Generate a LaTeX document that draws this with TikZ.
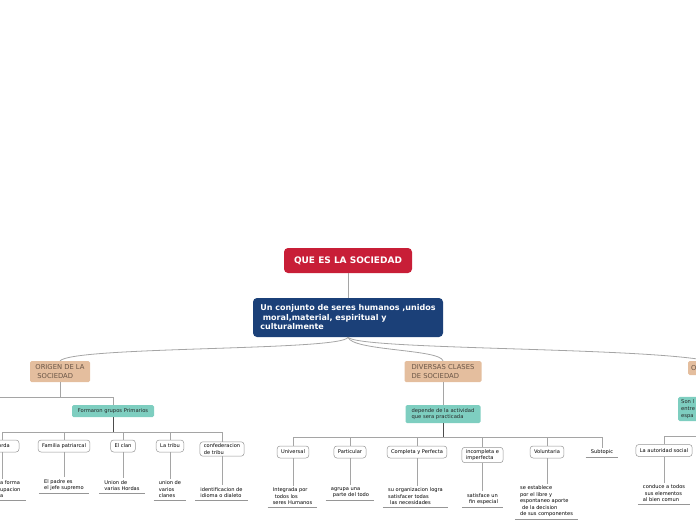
\documentclass[tikz,border=0pt]{standalone}
\usepackage{fontspec}
\setmainfont{DejaVu Sans}
\definecolor{rootred}{RGB}{200,30,55}
\definecolor{mainblue}{RGB}{27,64,120}
\definecolor{tanbox}{RGB}{228,190,158}
\definecolor{tantext}{RGB}{105,85,70}
\definecolor{tealbox}{RGB}{126,206,192}
\definecolor{linegray}{RGB}{165,165,165}
\definecolor{boxgray}{RGB}{150,150,150}

\begin{document}
\begin{tikzpicture}[x=1pt, y=-1pt,
    root/.style={rectangle, rounded corners=4pt, fill=rootred, text=white, inner sep=0pt,
                 font=\fontsize{9}{10.5}\selectfont\bfseries, minimum width=128pt, minimum height=25pt},
    central/.style={rectangle, rounded corners=4pt, fill=mainblue, text=white, inner sep=0pt, align=left,
                 font=\fontsize{8}{9.5}\selectfont\bfseries, minimum width=190pt, minimum height=39pt},
    topic/.style={rectangle, rounded corners=1.5pt, fill=tanbox, text=tantext, inner sep=3pt, align=left,
                 font=\fontsize{6.8}{8.6}\selectfont, minimum height=21pt},
    idea/.style={rectangle, rounded corners=1.5pt, fill=tealbox, text=black!85, inner sep=3pt,
                 font=\fontsize{5.2}{6.6}\selectfont},
    sub/.style={rectangle, rounded corners=3pt, draw=boxgray, line width=0.5pt, fill=white, inner xsep=4pt,
                 inner ysep=2pt, font=\fontsize{5.1}{6.5}\selectfont, minimum height=12pt},
    note/.style={align=left, inner xsep=5pt, inner ysep=2pt, font=\fontsize{5.1}{6.5}\selectfont,
                 append after command={(\tikzlastnode.south west) edge[draw=boxgray, line width=0.6pt] (\tikzlastnode.south east)}},
    link/.style={draw=linegray, line width=0.6pt},
    stem/.style={draw=black!70, line width=0.7pt},
    branch/.style={draw=linegray, line width=0.8pt}
]
\useasboundingbox (0,0) rectangle (696,520);
\clip (0,0) rectangle (696,520);

% centre
\node[root] (root) at (348,260.5) {QUE ES LA SOCIEDAD};
\node[central] (def) at (348,317.5) {Un conjunto de seres humanos ,unidos\\\hspace{2.5pt}moral,material, espiritual y\\culturalmente};
\draw[link] (root.south) -- (def.north);

% main topics
\node[topic, minimum width=60pt] (origen) at (60,371.5) {ORIGEN DE LA\\\hspace{2pt}SOCIEDAD};
\node[topic, minimum width=77pt] (clases) at (443,371.5) {DIVERSAS CLASES\\DE SOCIEDAD};
\node[topic, anchor=west, text width=34pt, minimum height=14pt] (otro) at (688,368) {O};
\draw[branch] (def.south) .. controls (344,351) and (75,346) .. (origen.north);
\draw[branch] (def.south) .. controls (352,351) and (440,349) .. (clases.north);
\draw[branch] (def.south) .. controls (358,350) and (640,347) .. (otro.north);

% origen de la sociedad
\node[idea, minimum width=82pt, minimum height=12pt] (grupos) at (113,411) {Formaron grupos Primarios};
\coordinate (busO) at (0,397);
\draw[link] (origen.south) -- (origen.south |- busO) -- (-20,397);
\draw[link] (origen.south |- busO) -| (grupos.north);

\node[sub, minimum width=34pt] (horda) at (2,446) {Horda};
\node[sub] (familia) at (64,446) {Familia patriarcal};
\node[sub] (clan) at (123,446) {El clan};
\node[sub] (tribu) at (170,446) {La tribu};
\node[sub, align=left] (confed) at (222,449) {confederacion\\de tribu};
\coordinate (busG) at (0,432);
\draw[stem] (grupos.south) -- (grupos.south |- busG);
\foreach \n in {horda,familia,clan,tribu,confed}
    \draw[link] (grupos.south |- busG) -| (\n.north);

\node[note, anchor=south west] (horda-note) at (-5,500) {a forma\\upacion\\a};
\node[note, anchor=south] (familia-note) at (64,493) {El padre es\\el jefe supremo};
\node[note, anchor=south] (clan-note) at (122,493) {Union de\\varias Hordas};
\node[note, anchor=south] (tribu-note) at (170,500) {union de\\varios\\clanes};
\node[note, anchor=south] (confed-note) at (221.5,500) {identificacion de\\idioma o dialeto};
\foreach \n in {horda,familia,clan,tribu,confed}
    \draw[link] (\n.south) -- (\n.south |- \n-note.north);

% diversas clases de sociedad
\node[idea, minimum width=75pt, minimum height=18pt, align=left] (actividad) at (443,414) {depende de la actividad\\que sera practicada};
\draw[link] (clases.south) -- (actividad.north);

\node[sub] (universal) at (293,452) {Universal};
\node[sub] (particular) at (350,452) {Particular};
\node[sub] (completa) at (417,452) {Completa y Perfecta};
\node[sub, align=left] (incompleta) at (482.5,455) {incompleta e\\imperfecta};
\node[sub] (voluntaria) at (547,452) {Voluntaria};
\node[note, anchor=south] (subtopic) at (602,457) {Subtopic};
\coordinate (busC) at (0,437);
\draw[stem] (actividad.south) -- (actividad.south |- busC);
\foreach \n in {universal,particular,completa,incompleta,voluntaria,subtopic}
    \draw[link] (actividad.south |- busC) -| (\n.north);

\node[note, anchor=south] (universal-note) at (292.5,507) {Integrada por\\\hspace{2pt}todos los\\seres Humanos};
\node[note, anchor=south] (particular-note) at (350,500) {agrupa una\\\hspace{2pt}parte del todo};
\node[note, anchor=south] (completa-note) at (415.5,507) {su organizacion logra\\satisfacer todas\\\hspace{2pt}las necesidades};
\node[note, anchor=south] (incompleta-note) at (482.5,507) {satisface un\\\hspace{2pt}fin especial};
\node[note, anchor=south] (voluntaria-note) at (546.5,519) {se establece\\por el libre y\\espontaneo aporte\\\hspace{2pt}de la decision\\de sus componentes};
\foreach \n in {universal,particular,completa,incompleta,voluntaria}
    \draw[link] (\n.south) -- (\n.south |- \n-note.north);

% third topic
\node[idea, anchor=west, text width=40pt, minimum height=24pt, align=left] (son) at (678,409) {Son l\\entre\\espa};
\draw[link] (otro.south) -- (otro.south |- son.north);
\node[sub] (autoridad) at (664,450.5) {La autoridad social};
\coordinate (busS) at (0,436);
\draw[link] (son.south) -- (son.south |- busS) -| (autoridad.north);
\node[note, anchor=south] (autoridad-note) at (664,504) {conduce a todos\\\hspace{2pt}sus elementos\\al bien comun};
\draw[link] (autoridad.south) -- (autoridad.south |- autoridad-note.north);
\end{tikzpicture}
\end{document}
